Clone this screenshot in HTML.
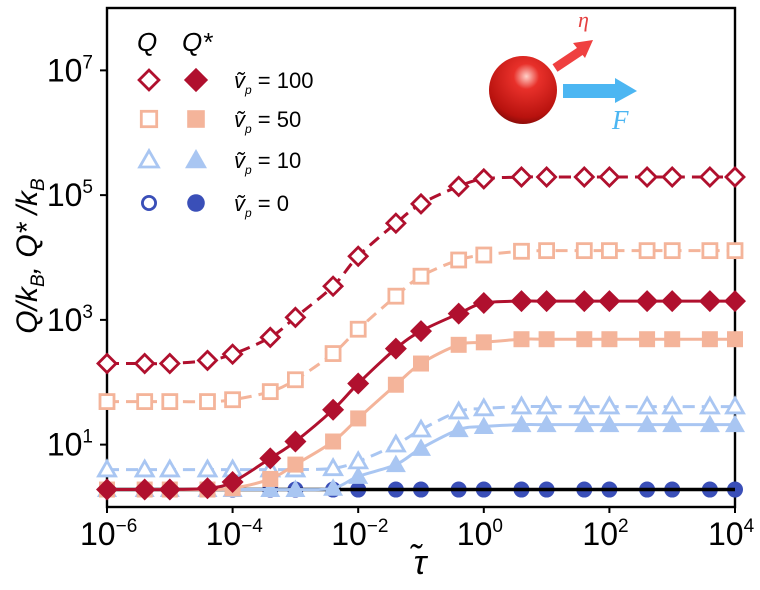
<!DOCTYPE html>
<html><head><meta charset="utf-8"><style>
body{margin:0;background:#fff;}
svg text{font-family:"Liberation Sans",sans-serif;}
</style></head><body>
<svg id="chart" width="760" height="585" viewBox="0 0 760 585" xmlns="http://www.w3.org/2000/svg">
<defs>
<radialGradient id="sph" cx="0.55" cy="0.3" r="0.75">
<stop offset="0" stop-color="#ffd0c8"/><stop offset="0.25" stop-color="#e8302a"/><stop offset="0.8" stop-color="#b8120e"/><stop offset="1" stop-color="#7a0a08"/>
</radialGradient>
</defs>
<g id="plot"></g>
<g id="inset">
<circle cx="523" cy="90" r="34" fill="url(#sph)"/>
<line x1="555" y1="68" x2="582" y2="50" stroke="#ef4040" stroke-width="9"/>
<polygon points="593,40 573,43 585,58" fill="#ef4040"/>
<text x="578" y="27" fill="#e54040" font-size="22" font-style="italic" style="font-family:'Liberation Serif',serif">η</text>
<rect x="563" y="84" width="55" height="14" fill="#4cb6f2"/>
<polygon points="615,78 637,91 615,103" fill="#4cb6f2"/>
<text x="612" y="129" fill="#4cb6f2" font-size="27" font-style="italic" style="font-family:'Liberation Serif',serif">F</text>
</g>
</svg>
<script>
const xLogs=[-6,-5.4,-5,-4.4,-4,-3.4,-3,-2.4,-2,-1.4,-1,-0.4,0,0.6,1,1.6,2,2.6,3,3.6,4];
const q100=[2.30,2.30,2.30,2.35,2.45,2.72,3.04,3.54,4.02,4.55,4.86,5.14,5.26,5.29,5.29,5.29,5.29,5.29,5.29,5.29,5.29];
const qs100=[0.28,0.28,0.28,0.3,0.4,0.78,1.05,1.56,1.98,2.54,2.82,3.10,3.27,3.30,3.30,3.30,3.30,3.30,3.30,3.30,3.30];
const q50=[1.69,1.69,1.69,1.69,1.72,1.85,2.04,2.46,2.85,3.38,3.70,3.96,4.04,4.10,4.11,4.11,4.11,4.11,4.11,4.11,4.11];
const qs50=[0.28,0.28,0.28,0.28,0.3,0.45,0.68,1.05,1.42,1.96,2.30,2.60,2.64,2.69,2.69,2.69,2.69,2.69,2.69,2.69,2.69];
const q10=[0.6,0.6,0.6,0.6,0.6,0.6,0.6,0.62,0.73,1.0,1.24,1.53,1.58,1.61,1.61,1.61,1.61,1.61,1.61,1.61,1.61];
const qs10=[0.28,0.28,0.28,0.28,0.28,0.28,0.28,0.3,0.49,0.68,0.94,1.24,1.29,1.32,1.32,1.32,1.32,1.32,1.32,1.32,1.32];
const q0=[0.28,0.28,0.28,0.28,0.28,0.28,0.28,0.28,0.28,0.28,0.28,0.28,0.28,0.28,0.28,0.28,0.28,0.28,0.28,0.28,0.28];
const qs0=[0.28,0.28,0.28,0.28,0.28,0.28,0.28,0.28,0.28,0.28,0.28,0.28,0.28,0.28,0.28,0.28,0.28,0.28,0.28,0.28,0.28];
const refLine=[0.28];
const xTickLogs=[-6,-4,-2,0,2,4];
const yTickLogs=[1,3,5,7];
const legendLabels=["100","50","10","0"];

const L=107,R=735,T=8,B=507;
const xs=v=>L+(v+6)/10*(R-L);
const ys=v=>B-(v-0)/8*(B-T);
const NS="http://www.w3.org/2000/svg";
const g=document.getElementById('plot');
function mk(tag,attrs,parent){const e=document.createElementNS(NS,tag);for(const k in attrs)e.setAttribute(k,attrs[k]);(parent||g).appendChild(e);return e;}
function smooth(pts){let d=`M${pts[0][0]},${pts[0][1]}`;for(let i=0;i<pts.length-1;i++){const p0=pts[Math.max(0,i-1)],p1=pts[i],p2=pts[i+1],p3=pts[Math.min(pts.length-1,i+2)];const c1=[p1[0]+(p2[0]-p0[0])/6,p1[1]+(p2[1]-p0[1])/6],c2=[p2[0]-(p3[0]-p1[0])/6,p2[1]-(p3[1]-p1[1])/6];d+=` C${c1[0]},${c1[1]} ${c2[0]},${c2[1]} ${p2[0]},${p2[1]}`;}return d;}
function marker(shape,x,y,col,open,parent,name,k){k=k||1;let e;const sw=open?2.8:0,fill=open?'#fff':col;
 if(shape==='d'){const s=(open?9:11)*k;e=mk('polygon',{points:`${x},${y-s} ${x+s},${y} ${x},${y+s} ${x-s},${y}`},parent);}
 else if(shape==='s'){const s=(open?7:8)*k;e=mk('rect',{x:x-s,y:y-s,width:2*s,height:2*s},parent);}
 else if(shape==='t'){const s=(open?8.5:10)*k;e=mk('polygon',{points:`${x},${y-s} ${x+s},${y+s*0.75} ${x-s},${y+s*0.75}`},parent);}
 else {e=mk('circle',{cx:x,cy:y,r:(open?6:8)*k},parent);}
 e.setAttribute('fill',fill);e.setAttribute('stroke',open?col:'none');e.setAttribute('stroke-width',sw);
 
 
 return e;}
const frame=mk('rect',{x:L,y:T,width:R-L,height:B-T,fill:'none',stroke:'#000','stroke-width':2.4});


yTickLogs.forEach(v=>{const y=ys(v);
 const t=mk('line',{x1:L-7,x2:L,y1:y,y2:y,stroke:'#000','stroke-width':2});
 
 
 const tx=mk('text',{x:L-14,y:y+11,'text-anchor':'end','font-size':32});
 
 
 tx.innerHTML=`10<tspan dy="-13" font-size="19">${v}</tspan>`;});
xTickLogs.forEach(v=>{const x=xs(v);
 const t=mk('line',{x1:x,x2:x,y1:B,y2:B+6,stroke:'#000','stroke-width':2});
 
 
 const tx=mk('text',{x:x-27,y:B+38,'text-anchor':'start','font-size':32});
 
 
 tx.innerHTML=`10<tspan dy="-13" font-size="19">${v<0?'−'+(-v):v}</tspan>`;});
const series=[
 {d:q0,shape:'c',col:'#3a4fb8',open:true,name:'q-vp0'},
 {d:qs0,shape:'c',col:'#3a4fb8',open:false,name:'qstar-vp0'},
 {d:q10,shape:'t',col:'#a9c6f2',open:true,name:'q-vp10'},
 {d:qs10,shape:'t',col:'#a9c6f2',open:false,name:'qstar-vp10'},
 {d:q50,shape:'s',col:'#f4b49a',open:true,name:'q-vp50'},
 {d:qs50,shape:'s',col:'#f4b49a',open:false,name:'qstar-vp50'},
 {d:q100,shape:'d',col:'#b0102e',open:true,name:'q-vp100'},
 {d:qs100,shape:'d',col:'#b0102e',open:false,name:'qstar-vp100'}];
series.forEach(s=>{const grp=mk('g',{});
 
 
 const pts=xLogs.map((x,i)=>[xs(x),ys(s.d[i])]);
 const p=mk('path',{d:smooth(pts),fill:'none',stroke:s.col,'stroke-width':3,'stroke-dasharray':s.open?'12,7':'none'},grp);
 
 
 pts.forEach(pt=>marker(s.shape,pt[0],pt[1],s.col,s.open,grp,s.name+'-point'));
 if(s.name==='qstar-vp0'){const bl=mk('line',{x1:L,x2:R,y1:ys(refLine[0]),y2:ys(refLine[0]),stroke:'#000','stroke-width':3.5});
  
  }
});
const lg=mk('g',{});


const hq=mk('text',{x:137,y:51,'font-size':26,'font-style':'italic'},lg);hq.textContent='Q';


const hqs=mk('text',{x:182,y:51,'font-size':26,'font-style':'italic'},lg);hqs.textContent='Q*';


const lshapes=['d','s','t','c'],lcols=['#b0102e','#f4b49a','#a9c6f2','#3a4fb8'],lys=[80,119,160,203];
legendLabels.forEach((lab,i)=>{
 marker(lshapes[i],149,lys[i],lcols[i],true,lg,'legend-open-marker',1.1);
 marker(lshapes[i],196,lys[i],lcols[i],false,lg,'legend-filled-marker',1.1);
 const t=mk('text',{x:234,y:lys[i]+8,'font-size':22},lg);
 
 
 t.innerHTML=`<tspan font-style="italic">ṽ</tspan><tspan dy="6" font-size="12" font-style="italic">p</tspan><tspan dy="-6"> = ${lab}</tspan>`;});
const xt=mk('text',{x:420,y:574,'text-anchor':'middle','font-size':34,'font-style':'italic'});xt.textContent='τ̃';


const yt=mk('text',{x:0,y:0,'text-anchor':'middle','font-size':30,'font-style':'italic',transform:'translate(37,256) rotate(-90)'});


yt.innerHTML='Q/k<tspan dy="7" font-size="19">B</tspan><tspan dy="-7">, Q* /k</tspan><tspan dy="7" font-size="19">B</tspan>';
</script>
</body></html>
